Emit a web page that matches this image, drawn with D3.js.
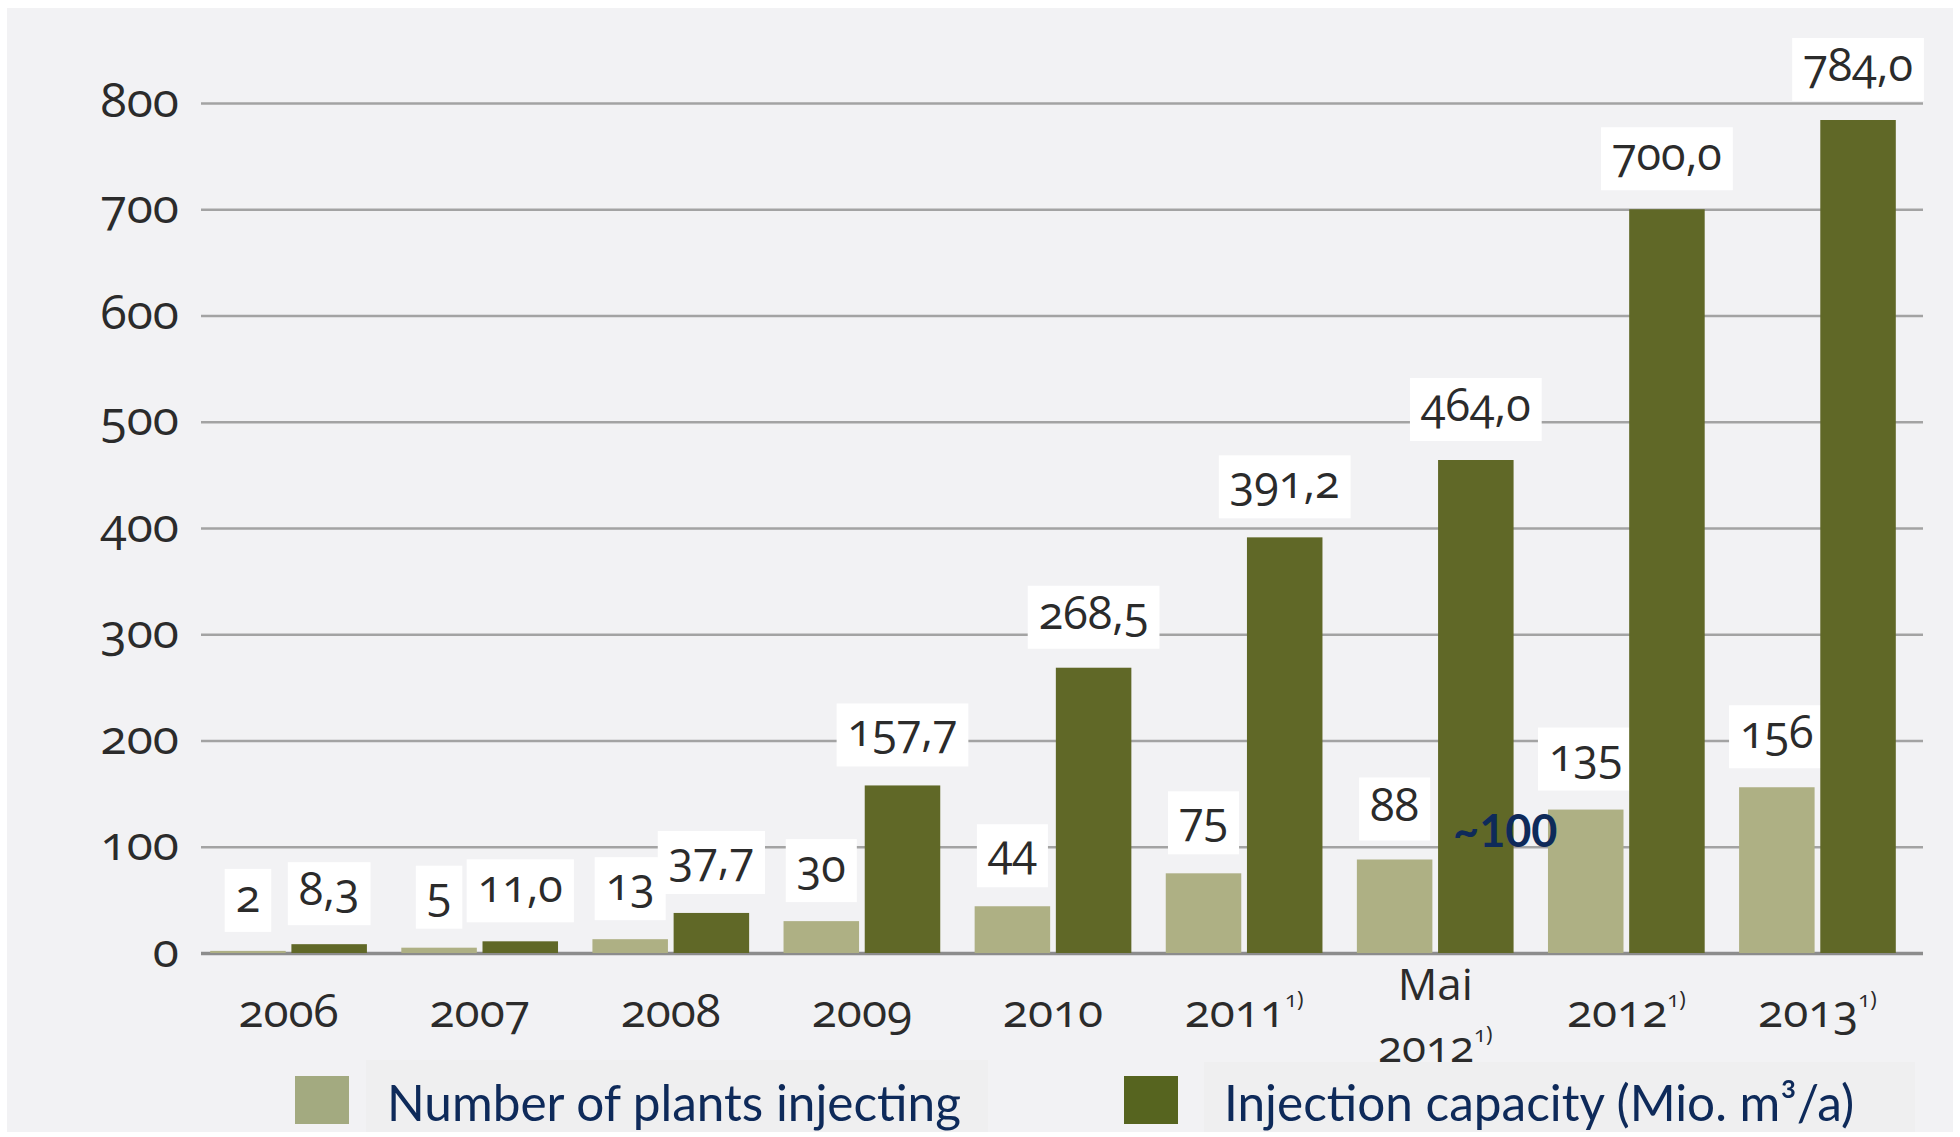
<!DOCTYPE html>
<html>
<head>
<meta charset="utf-8">
<script src="https://cdn.jsdelivr.net/npm/d3@7"></script>
<style>
  html, body { margin: 0; padding: 0; background: #ffffff; }
  svg { display: block; }
  .num { font-family: "Open Sans", sans-serif; font-variant-numeric: oldstyle-nums; fill: #2b2b2b; }
  .leg { font-family: Lato, "Open Sans", sans-serif; fill: #0e2a5a; }
</style>
</head>
<body>
<svg id="chart"></svg>
<script>
// categories along the x axis (line 1, line 2) and footnote marker
var categories = ['2006', '2007', '2008', '2009', '2010', '2011', 'Mai 2012', '2012', '2013'];
var catLines = [['2006'], ['2007'], ['2008'], ['2009'], ['2010'], ['2011'], ['Mai', '2012'], ['2012'], ['2013']];
var footnote = [false, false, false, false, false, true, true, true, true];

// series
var plants = [2, 5, 13, 30, 44, 75, 88, 135, 156];
var capacity = [8.3, 11.0, 37.7, 157.7, 268.5, 391.2, 464.0, 700.0, 784.0];
var seriesNames = ['Number of plants injecting', 'Injection capacity (Mio. m³/a)'];

var yTicks = [0, 100, 200, 300, 400, 500, 600, 700, 800];
var note = '~100';

var width = 1960, height = 1137;
var colors = ['#aeb084', '#606827'];
var legendColors = ['#a3aa80', '#56641f'];

var svg = d3.select('#chart').attr('width', width).attr('height', height);

// grey panel
svg.append('rect')
	.attr('x', 7).attr('y', 8)
	.attr('width', 1946).attr('height', 1124)
	.attr('fill', '#f2f2f4');

var y = d3.scaleLinear().domain([0, 800]).range([953, 103]);
var x = d3.scaleBand().domain(categories).range([193, 1913])
	.paddingInner(0.18).paddingOuter(0.09);
var xSub = d3.scaleBand().domain([0, 1]).range([0, x.bandwidth()]).paddingInner(0.07);

var fmt = function(v) { return d3.format('.1f')(v).replace('.', ','); };

// grid lines + y labels
var gridLeft = 201, gridRight = 1923;
var yAxis = svg.append('g')
	.attr('transform', 'translate(' + gridLeft + ',0)')
	.call(d3.axisLeft(y).tickValues(yTicks).tickSize(-(gridRight - gridLeft)).tickPadding(22).tickFormat(d3.format('d')));
yAxis.select('.domain').remove();
yAxis.selectAll('.tick line')
	.attr('stroke', function(d) { return d === 0 ? '#8c8c8c' : '#a3a3a3'; })
	.attr('stroke-width', function(d) { return d === 0 ? 3.5 : 2.5; });
yAxis.selectAll('.tick text')
	.attr('class', 'num')
	.attr('dy', null)
	.attr('y', 13)
	.style('font-size', '48px');

// value labels data
var labels = [];
categories.forEach(function(c, i) {
	labels.push({cat: c, s: 0, v: plants[i], t: String(plants[i])});
	labels.push({cat: c, s: 1, v: capacity[i], t: fmt(capacity[i])});
});

var boxLayer = svg.append('g');
var barLayer = svg.append('g');
var textLayer = svg.append('g');

var groups = barLayer.selectAll('g.grp')
	.data(categories)
	.enter().append('g')
	.attr('class', 'grp')
	.attr('transform', function(d) { return 'translate(' + x(d) + ',0)'; });

groups.append('rect')
	.attr('x', xSub(0))
	.attr('width', xSub.bandwidth())
	.attr('y', function(d, i) { return y(plants[i]); })
	.attr('height', function(d, i) { return y(0) - y(plants[i]); })
	.attr('fill', colors[0]);

groups.append('rect')
	.attr('x', xSub(1))
	.attr('width', xSub.bandwidth())
	.attr('y', function(d, i) { return y(capacity[i]); })
	.attr('height', function(d, i) { return y(0) - y(capacity[i]); })
	.attr('fill', colors[1]);

// value label text first, then boxes sized from it
var gap = 19;
var vt = textLayer.selectAll('text.val')
	.data(labels)
	.enter().append('text')
	.attr('class', 'num val')
	.attr('text-anchor', 'middle')
	.attr('x', function(d) { return x(d.cat) + xSub(d.s) + xSub.bandwidth() / 2; })
	.attr('y', function(d) { return y(d.v) - gap - 20; })
	.style('font-size', '45px')
	.text(function(d) { return d.t; });

vt.each(function(d) {
	var w = this.getComputedTextLength() + 22;
	var cx = x(d.cat) + xSub(d.s) + xSub.bandwidth() / 2;
	boxLayer.append('rect')
		.attr('x', cx - w / 2)
		.attr('y', y(d.v) - gap - 63)
		.attr('width', w)
		.attr('height', 63)
		.attr('fill', '#ffffff');
});

// x labels (one text per line)
categories.forEach(function(d, i) {
	var cx = x(d) + x.bandwidth() / 2;
	var lines = catLines[i];
	var two = lines.length > 1;
	var base = two ? 1000 : 1027;
	lines.forEach(function(line, k) {
		var t = textLayer.append('text')
			.attr('class', 'num cat')
			.attr('text-anchor', 'middle')
			.attr('x', cx)
			.attr('y', base + k * 62)
			.style('font-size', two ? '44px' : '46px')
			.text(line);
		if (k === lines.length - 1 && footnote[i]) {
			t.append('tspan')
				.attr('dy', -20)
				.style('font-size', '22px')
				.text('1)');
		}
	});
});

// annotation
textLayer.append('text')
	.attr('x', x('Mai 2012') + xSub(1) + 15)
	.attr('y', y(0) - 106)
	.attr('font-family', 'Lato, "Open Sans", sans-serif')
	.attr('font-weight', 'bold')
	.attr('font-size', '45px')
	.attr('fill', '#0e2a5a')
	.text(note);

// legend
var legendPatches = [[366, 1060, 622, 72], [1204, 1062, 711, 70]];
legendPatches.forEach(function(p) {
	svg.append('rect')
		.attr('x', p[0]).attr('y', p[1]).attr('width', p[2]).attr('height', p[3])
		.attr('fill', '#efeff0');
});

var legendX = [295, 1124];
var legendTextX = [387, 1224];
seriesNames.forEach(function(name, i) {
	svg.append('rect')
		.attr('x', legendX[i]).attr('y', 1076)
		.attr('width', 54).attr('height', 48)
		.attr('fill', legendColors[i]);
	svg.append('text')
		.attr('class', 'leg')
		.attr('x', legendTextX[i])
		.attr('y', 1121)
		.style('font-size', '49.5px')
		.text(name);
});
</script>
</body>
</html>
